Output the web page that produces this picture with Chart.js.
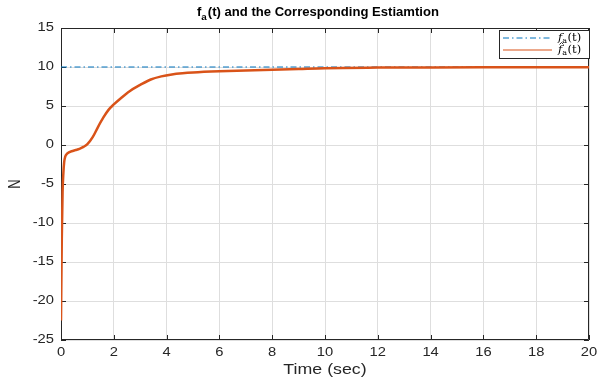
<!DOCTYPE html>
<html>
<head>
<meta charset="utf-8">
<script src="https://cdn.jsdelivr.net/npm/chart.js@4.4.1/dist/chart.umd.min.js"></script>
<style>
html,body{margin:0;padding:0;background:#fff;}
#c{display:block;}
</style>
</head>
<body>
<canvas id="c" width="603" height="379"></canvas>
<script>
// ---- data ----
const timeEst = [0, 0.03, 0.06, 0.09, 0.12, 0.16, 0.22, 0.3, 0.4, 0.55, 0.7, 0.85, 1.0, 1.2, 1.4, 1.6, 1.8, 2.0, 2.3, 2.6, 3.0, 3.4, 3.8, 4.2, 4.6, 5.0, 6.0, 7.0, 8.0, 9.0, 10, 12, 14, 16, 18, 20];
const faHat   = [-22.5, -12, -6, -3.6, -2.2, -1.5, -1.15, -0.95, -0.8, -0.65, -0.5, -0.25, 0.1, 1.0, 2.3, 3.5, 4.5, 5.2, 6.1, 6.9, 7.7, 8.4, 8.8, 9.05, 9.2, 9.3, 9.45, 9.55, 9.65, 9.75, 9.85, 9.92, 9.95, 9.97, 9.98, 9.98];
const timeRef = [0, 20];
const faRef   = [10, 10];
const xTicks  = [0, 2, 4, 6, 8, 10, 12, 14, 16, 18, 20];
const yTicks  = [-25, -20, -15, -10, -5, 0, 5, 10, 15];
const titleMain = "f";
const titleSub = "a";
const titleRest = "(t) and the Corresponding Estiamtion";
const xLabel = "Time (sec)";
const yLabel = "N";

const BLUE = '#0072BD';
const ORANGE = '#D95319';
const AXIS = '#262626';

function txt(ctx, s, x, y, font, align, sx, color) {
  ctx.save();
  ctx.font = font;
  ctx.fillStyle = color || AXIS;
  ctx.textBaseline = 'middle';
  const w = ctx.measureText(s).width * sx;
  let x0 = x;
  if (align === 'center') x0 = x - w / 2;
  else if (align === 'right') x0 = x - w;
  ctx.translate(x0, y);
  ctx.scale(sx, 1);
  ctx.textAlign = 'left';
  ctx.fillText(s, 0, 0);
  ctx.restore();
  return w;
}

const decor = {
  id: 'decor',
  beforeDatasetsDraw(chart) {
    const ctx = chart.ctx, a = chart.chartArea;
    const xs = chart.scales.x, ys = chart.scales.y;
    ctx.save();
    ctx.strokeStyle = AXIS;
    ctx.lineWidth = 1;
    ctx.beginPath();
    ctx.rect(a.left + 0.5, a.top + 0.5, a.right - a.left - 1, a.bottom - a.top - 1);
    ctx.stroke();
    ctx.beginPath();
    const tl = 5;
    xTicks.forEach(v => {
      const px = Math.round(xs.getPixelForValue(v)) + 0.5;
      ctx.moveTo(px, a.bottom); ctx.lineTo(px, a.bottom - tl);
      ctx.moveTo(px, a.top); ctx.lineTo(px, a.top + tl);
    });
    yTicks.forEach(v => {
      const py = Math.round(ys.getPixelForValue(v)) + 0.5;
      ctx.moveTo(a.left, py); ctx.lineTo(a.left + tl, py);
      ctx.moveTo(a.right, py); ctx.lineTo(a.right - tl, py);
    });
    ctx.stroke();
    ctx.restore();
  },
  afterDraw(chart) {
    const ctx = chart.ctx, a = chart.chartArea;
    const xs = chart.scales.x, ys = chart.scales.y;
    const tf = '12.5px "Liberation Sans", Arial, sans-serif';
    xTicks.forEach(v => txt(ctx, String(v), xs.getPixelForValue(v), 353, tf, 'center', 1.18));
    yTicks.forEach(v => txt(ctx, String(v), 54, ys.getPixelForValue(v), tf, 'right', 1.18));
    // axis titles
    txt(ctx, xLabel, (a.left + a.right) / 2, 370, '14px "Liberation Sans", Arial, sans-serif', 'center', 1.27);
    ctx.save();
    ctx.translate(15, (a.top + a.bottom) / 2);
    ctx.rotate(-Math.PI / 2);
    ctx.font = '13px "Liberation Sans", Arial, sans-serif';
    ctx.fillStyle = AXIS; ctx.textAlign = 'center'; ctx.textBaseline = 'middle';
    ctx.scale(1, 1.3);
    ctx.fillText(yLabel, 0, 0);
    ctx.restore();
    // title
    const bf = 'bold 12px "Liberation Sans", Arial, sans-serif';
    const sf = 'bold 9px "Liberation Sans", Arial, sans-serif';
    let x = 197;
    x += txt(ctx, titleMain, x, 13, bf, 'left', 1.09, '#000');
    x += txt(ctx, titleSub, x, 18, sf, 'left', 1.09, '#000') + 1;
    txt(ctx, titleRest, x, 13, bf, 'left', 1.09, '#000');
    // legend
    const lx = 499, ly = 30, lw = 90, lh = 28;
    ctx.save();
    ctx.fillStyle = '#fff';
    ctx.fillRect(lx, ly, lw, lh);
    ctx.strokeStyle = AXIS; ctx.lineWidth = 1;
    ctx.strokeRect(lx + 0.5, ly + 0.5, lw, lh);
    ctx.lineWidth = 1;
    ctx.strokeStyle = BLUE; ctx.setLineDash([6, 3, 1.5, 3]);
    ctx.beginPath(); ctx.moveTo(503, 38); ctx.lineTo(552, 38); ctx.stroke();
    ctx.setLineDash([]);
    ctx.strokeStyle = ORANGE; ctx.lineWidth = 1.2;
    ctx.beginPath(); ctx.moveTo(503, 50); ctx.lineTo(552, 50); ctx.stroke();
    ctx.restore();
    const itf = 'italic 11.5px "DejaVu Serif", serif';
    const rf = '11.5px "DejaVu Serif", serif';
    const subf = '8px "DejaVu Serif", serif';
    [38, 50].forEach((yy, i) => {
      let xx = 558;
      const fw = txt(ctx, 'f', xx, yy, itf, 'left', 1, '#000');
      if (i === 1) {
        ctx.save();
        ctx.strokeStyle = '#000'; ctx.lineWidth = 0.8;
        ctx.beginPath();
        ctx.moveTo(xx + 1.5, yy - 5.5);
        ctx.lineTo(xx + 3.5, yy - 7.5);
        ctx.lineTo(xx + 5.5, yy - 5.5);
        ctx.stroke();
        ctx.restore();
      }
      xx += fw;
      xx += txt(ctx, 'a', xx, yy + 2.5, subf, 'left', 1, '#000');
      txt(ctx, '(t)', xx + 0.5, yy, rf, 'left', 1, '#000');
    });
  }
};

new Chart(document.getElementById('c'), {
  type: 'scatter',
  data: {
    datasets: [
      {
        label: 'fa_hat',
        data: timeEst.map((t, i) => ({x: t, y: faHat[i]})),
        showLine: true, borderColor: ORANGE, borderWidth: 2.5,
        pointRadius: 0, tension: 0.3, cubicInterpolationMode: 'monotone', order: 0
      },
      {
        label: 'fa',
        data: timeRef.map((t, i) => ({x: t, y: faRef[i]})),
        showLine: true, borderColor: BLUE, borderWidth: 1,
        borderDash: [6, 3, 1.5, 3], pointRadius: 0, order: 1
      }
    ]
  },
  options: {
    responsive: false,
    animation: false,
    events: [],
    layout: {padding: {top: 28, right: 14, left: 0, bottom: 0}},
    plugins: {legend: {display: false}, tooltip: {enabled: false}, title: {display: false}},
    scales: {
      x: {
        type: 'linear', min: 0, max: 20,
        ticks: {display: false, stepSize: 2},
        grid: {color: '#dedede', drawTicks: false, lineWidth: 1},
        border: {display: false},
        afterFit(s) { s.height = 39; }
      },
      y: {
        type: 'linear', min: -25, max: 15,
        ticks: {display: false, stepSize: 5},
        grid: {color: '#dedede', drawTicks: false, lineWidth: 1},
        border: {display: false},
        afterFit(s) { s.width = 61; }
      }
    }
  },
  plugins: [decor]
});
</script>
</body>
</html>
